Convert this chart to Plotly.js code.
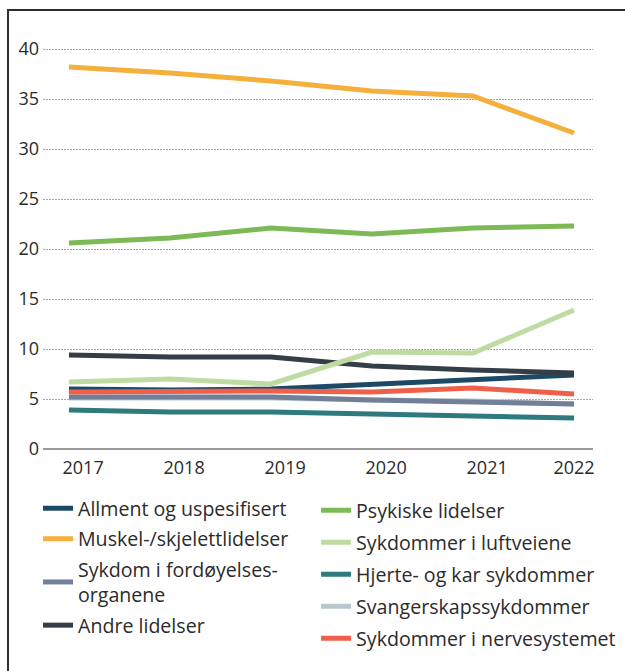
<!DOCTYPE html>
<html>
<head>
<meta charset="utf-8">
<script src="https://cdn.plot.ly/plotly-3.0.1.min.js"></script>
<style>
  html, body { margin: 0; padding: 0; background: #fff; overflow: hidden; }
  #wrap { position: relative; width: 625px; height: 671px; }
  #chart { position: absolute; left: 0; top: 0; width: 625px; height: 671px; }
  #frame { position: absolute; left: 7px; top: 9px; width: 700px; height: 700px;
           border: 2px solid #2e2e2e; pointer-events: none; box-sizing: border-box; }
</style>
</head>
<body>
<div id="wrap">
  <div id="chart"></div>
  <div id="frame"></div>
</div>
<script>
// ---- data ----
const years = [2017, 2018, 2019, 2020, 2021, 2022];

const allment      = [6.0, 5.9, 6.0, 6.5, 6.9, 7.4];
const muskel       = [38.2, 37.6, 36.8, 35.8, 35.3, 31.6];
const fordoyelse   = [5.2, 5.2, 5.2, 4.9, 4.7, 4.5];
const andre        = [9.4, 9.2, 9.2, 8.3, 7.9, 7.6];
const psykiske     = [20.6, 21.1, 22.1, 21.5, 22.1, 22.3];
const luftveiene   = [6.7, 7.0, 6.5, 9.7, 9.6, 13.9];
const hjerte       = [3.9, 3.7, 3.7, 3.5, 3.3, 3.1];
const svangerskap  = [5.1, 5.1, 5.1, 4.9, 4.8, 4.5];
const nerve        = [5.7, 5.8, 5.8, 5.7, 6.1, 5.5];

const yTicks = [0, 5, 10, 15, 20, 25, 30, 35, 40];

// ---- series definitions (drawing order) ----
const series = [
  {name: 'Svangerskapssykdommer',        y: svangerskap, color: '#b7c7cd', legend: 'legend2', rank: 4},
  {name: 'Sykdom i fordøyelses-<br>organene', y: fordoyelse, color: '#717f98', legend: 'legend', rank: 3},
  {name: 'Hjerte- og kar sykdommer',     y: hjerte,      color: '#2e7a7c', legend: 'legend2', rank: 3},
  {name: 'Allment og uspesifisert',      y: allment,     color: '#1c4966', legend: 'legend', rank: 1},
  {name: 'Andre lidelser',               y: andre,       color: '#353d47', legend: 'legend', rank: 4},
  {name: 'Sykdommer i luftveiene',       y: luftveiene,  color: '#bedca2', legend: 'legend2', rank: 2},
  {name: 'Sykdommer i nervesystemet',    y: nerve,       color: '#ee604a', legend: 'legend2', rank: 5},
  {name: 'Psykiske lidelser',            y: psykiske,    color: '#7dba57', legend: 'legend2', rank: 1},
  {name: 'Muskel-/skjelettlidelser',     y: muskel,      color: '#f4af3d', legend: 'legend', rank: 2}
];

const traces = series.map((s, i) => ({
  type: 'scatter',
  mode: 'lines',
  x: years,
  y: s.y,
  name: s.name,
  legend: s.legend,
  legendrank: s.rank,
  legendgroup: 'g' + i,
  line: {color: s.color, width: 5, shape: 'linear'},
  hoverinfo: 'skip'
}));

// tick labels sit a little right of the points, except the last one
const tickPos = years.map((y, i) => i < years.length - 1 ? y + 0.14 : y);

const font = {family: '"Open Sans", "Noto Sans", sans-serif', color: '#2b2b2b'};

const legendCommon = {
  xref: 'paper', yref: 'paper',
  xanchor: 'left', yanchor: 'top',
  traceorder: 'grouped',
  bgcolor: 'rgba(0,0,0,0)',
  font: Object.assign({size: 19.6}, font),
  itemclick: false, itemdoubleclick: false
};

const layout = {
  width: 625,
  height: 671,
  margin: {l: 43, r: 32, t: 30, b: 216, pad: 0, autoexpand: false},
  paper_bgcolor: '#ffffff',
  plot_bgcolor: '#ffffff',
  font: Object.assign({size: 17}, font),
  showlegend: true,
  xaxis: {
    range: [2016.743, 2022.188],
    tickmode: 'array',
    tickvals: tickPos,
    ticktext: years.map(String),
    showgrid: false,
    zeroline: false,
    showline: false,
    ticks: '',
    tickfont: Object.assign({size: 18}, font),
    fixedrange: true
  },
  yaxis: {
    range: [-0.6, 41.9],
    tickmode: 'array',
    tickvals: yTicks,
    ticktext: yTicks.map(String),
    showgrid: true,
    gridcolor: '#a6a6a6',
    gridwidth: 1,
    griddash: '1.5px,1.5px',
    zeroline: true,
    zerolinecolor: '#9a9a9a',
    zerolinewidth: 1.5,
    showline: false,
    ticks: '',
    ticklabelstandoff: 3,
    tickfont: Object.assign({size: 18}, font),
    fixedrange: true
  },
  legend: Object.assign({}, legendCommon, {x: -0.0091, y: -0.08, tracegroupgap: 2}),
  legend2: Object.assign({}, legendCommon, {x: 0.4965, y: -0.085, tracegroupgap: 3.5})
};

Plotly.newPlot('chart', traces, layout, {displayModeBar: false, staticPlot: true});
</script>
</body>
</html>
